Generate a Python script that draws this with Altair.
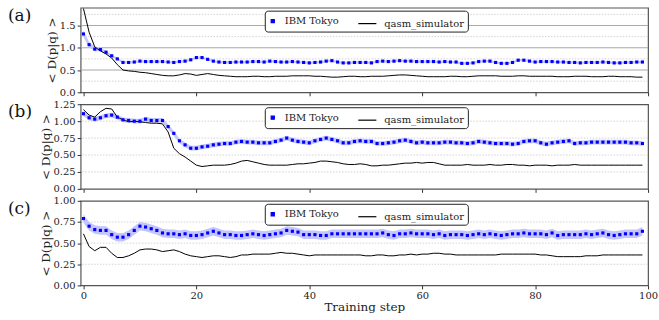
import altair as alt
import pandas as pd

steps = list(range(100))

ibm_a = [1.31, 1.07, 0.97, 0.96, 0.90, 0.82, 0.75, 0.67, 0.67, 0.68,
         0.70, 0.69, 0.69, 0.69, 0.69, 0.68, 0.67, 0.69, 0.70, 0.73,
         0.78, 0.78, 0.74, 0.70, 0.68, 0.67, 0.67, 0.68, 0.68, 0.68,
         0.69, 0.69, 0.68, 0.70, 0.69, 0.68, 0.68, 0.69, 0.68, 0.67,
         0.66, 0.67, 0.68, 0.70, 0.71, 0.68, 0.66, 0.66, 0.67, 0.67,
         0.67, 0.66, 0.69, 0.70, 0.69, 0.70, 0.71, 0.70, 0.70, 0.69,
         0.69, 0.69, 0.69, 0.68, 0.69, 0.68, 0.68, 0.65, 0.65, 0.66,
         0.69, 0.70, 0.70, 0.67, 0.65, 0.65, 0.67, 0.72, 0.72, 0.70,
         0.68, 0.69, 0.69, 0.69, 0.68, 0.68, 0.67, 0.67, 0.66, 0.67,
         0.67, 0.67, 0.68, 0.67, 0.66, 0.66, 0.67, 0.67, 0.68, 0.68]
sim_a = [1.88, 1.35, 1.02, 0.93, 0.86, 0.77, 0.62, 0.50, 0.48, 0.47,
         0.45, 0.44, 0.42, 0.40, 0.38, 0.37, 0.37, 0.39, 0.42, 0.41,
         0.38, 0.40, 0.42, 0.40, 0.38, 0.37, 0.36, 0.35, 0.35, 0.35,
         0.36, 0.36, 0.35, 0.35, 0.36, 0.36, 0.36, 0.37, 0.37, 0.37,
         0.37, 0.36, 0.36, 0.35, 0.34, 0.34, 0.35, 0.36, 0.36, 0.35,
         0.35, 0.36, 0.36, 0.36, 0.37, 0.38, 0.39, 0.39, 0.38, 0.37,
         0.36, 0.35, 0.35, 0.35, 0.35, 0.36, 0.36, 0.35, 0.35, 0.36,
         0.37, 0.37, 0.37, 0.37, 0.36, 0.36, 0.36, 0.37, 0.37, 0.36,
         0.36, 0.36, 0.36, 0.36, 0.35, 0.35, 0.35, 0.36, 0.36, 0.36,
         0.35, 0.35, 0.35, 0.36, 0.36, 0.35, 0.35, 0.35, 0.34, 0.34]
err_a = [0.07, 0.06, 0.05, 0.04, 0.035] + [0.025] * 95

ibm_b = [1.11, 1.05, 1.03, 1.05, 1.08, 1.09, 1.06, 1.02, 1.01, 1.00,
         1.00, 1.03, 1.01, 1.01, 1.01, 0.92, 0.82, 0.71, 0.65, 0.60,
         0.60, 0.62, 0.63, 0.65, 0.66, 0.67, 0.67, 0.69, 0.70, 0.69,
         0.69, 0.68, 0.68, 0.68, 0.70, 0.72, 0.75, 0.72, 0.70, 0.69,
         0.68, 0.71, 0.73, 0.75, 0.73, 0.71, 0.68, 0.68, 0.70, 0.71,
         0.70, 0.70, 0.67, 0.67, 0.68, 0.69, 0.71, 0.72, 0.70, 0.68,
         0.69, 0.68, 0.68, 0.68, 0.69, 0.69, 0.68, 0.68, 0.67, 0.68,
         0.70, 0.69, 0.68, 0.67, 0.67, 0.67, 0.66, 0.67, 0.70, 0.71,
         0.71, 0.68, 0.66, 0.68, 0.69, 0.70, 0.71, 0.67, 0.68, 0.68,
         0.69, 0.69, 0.69, 0.69, 0.69, 0.69, 0.69, 0.68, 0.68, 0.67]
sim_b = [1.17, 1.09, 1.06, 1.14, 1.19, 1.18, 1.06, 1.02, 0.99, 1.00,
         0.99, 0.98, 0.97, 0.97, 0.96, 0.84, 0.60, 0.52, 0.47, 0.41,
         0.35, 0.33, 0.34, 0.35, 0.35, 0.35, 0.36, 0.38, 0.41, 0.42,
         0.40, 0.38, 0.36, 0.35, 0.35, 0.35, 0.35, 0.36, 0.37, 0.37,
         0.38, 0.39, 0.41, 0.41, 0.40, 0.39, 0.37, 0.36, 0.36, 0.37,
         0.36, 0.34, 0.34, 0.35, 0.35, 0.36, 0.37, 0.38, 0.38, 0.39,
         0.38, 0.39, 0.39, 0.37, 0.35, 0.35, 0.35, 0.35, 0.36, 0.35,
         0.35, 0.35, 0.36, 0.35, 0.35, 0.36, 0.36, 0.35, 0.35, 0.34,
         0.35, 0.35, 0.35, 0.34, 0.35, 0.35, 0.35, 0.36, 0.35, 0.35,
         0.35, 0.35, 0.35, 0.35, 0.35, 0.35, 0.35, 0.35, 0.35, 0.35]
err_b = [0.035] * 100

ibm_c = [0.79, 0.70, 0.66, 0.65, 0.65, 0.60, 0.57, 0.57, 0.60, 0.65,
         0.70, 0.69, 0.67, 0.65, 0.62, 0.61, 0.61, 0.60, 0.61, 0.59,
         0.59, 0.60, 0.62, 0.64, 0.62, 0.60, 0.60, 0.59, 0.59, 0.60,
         0.61, 0.60, 0.59, 0.60, 0.61, 0.62, 0.65, 0.64, 0.63, 0.60,
         0.60, 0.60, 0.59, 0.59, 0.61, 0.61, 0.61, 0.61, 0.61, 0.61,
         0.61, 0.61, 0.61, 0.62, 0.60, 0.59, 0.61, 0.61, 0.62, 0.61,
         0.61, 0.61, 0.60, 0.61, 0.59, 0.60, 0.60, 0.60, 0.59, 0.60,
         0.61, 0.60, 0.61, 0.60, 0.59, 0.60, 0.61, 0.61, 0.62, 0.61,
         0.61, 0.61, 0.60, 0.62, 0.59, 0.60, 0.60, 0.60, 0.60, 0.61,
         0.60, 0.61, 0.62, 0.60, 0.59, 0.60, 0.61, 0.61, 0.61, 0.64]
sim_c = [0.61, 0.46, 0.41, 0.45, 0.45, 0.38, 0.33, 0.33, 0.35, 0.38,
         0.42, 0.43, 0.43, 0.42, 0.40, 0.41, 0.42, 0.40, 0.37, 0.35,
         0.34, 0.33, 0.34, 0.35, 0.35, 0.34, 0.33, 0.34, 0.36, 0.36,
         0.37, 0.37, 0.37, 0.37, 0.38, 0.39, 0.38, 0.38, 0.37, 0.36,
         0.35, 0.36, 0.36, 0.36, 0.36, 0.36, 0.36, 0.36, 0.36, 0.36,
         0.35, 0.35, 0.36, 0.36, 0.35, 0.35, 0.36, 0.36, 0.37, 0.36,
         0.37, 0.37, 0.38, 0.38, 0.37, 0.37, 0.36, 0.36, 0.36, 0.36,
         0.36, 0.36, 0.36, 0.36, 0.37, 0.37, 0.37, 0.37, 0.37, 0.37,
         0.37, 0.36, 0.36, 0.35, 0.34, 0.34, 0.34, 0.34, 0.34, 0.35,
         0.35, 0.35, 0.36, 0.36, 0.36, 0.36, 0.36, 0.36, 0.36, 0.36]
err_c = [0.05] * 100

series_names = ["IBM Tokyo", "qasm_simulator"]
x_ticks = [0, 20, 40, 60, 80, 100]

FONT = "DejaVu Serif"
PW, PH = 570, 85


def panel(label, ibm, sim, err, ydomain, yticks, yfmt, grid_major, grid_minor, bottom):
    df = pd.DataFrame({
        "step": steps,
        "IBM Tokyo": ibm,
        "qasm_simulator": sim,
        "lo": [v - e for v, e in zip(ibm, err)],
        "hi": [v + e for v, e in zip(ibm, err)],
    })
    xscale = alt.Scale(domain=[-0.5, 100], nice=False, zero=False)
    yscale = alt.Scale(domain=ydomain, nice=False, zero=False)
    xaxis = alt.Axis(values=x_ticks, labels=bottom, title="Training step" if bottom else None,
                     grid=False, tickSize=3.5, labelPadding=2, titlePadding=1, format="d",
                     labelFlush=False)
    yaxis = alt.Axis(values=yticks, format=yfmt, grid=False, title="< D(p|q) >",
                     tickSize=3.5, labelPadding=2, titlePadding=1, labelFlush=False)

    X = alt.X("step:Q", scale=xscale, axis=xaxis)

    layers = []
    if grid_minor:
        layers.append(alt.Chart(pd.DataFrame({"g": grid_minor})).mark_rule(
            color="#c8c8c8", strokeWidth=0.8, strokeDash=[1.5, 1.5]).encode(
            y=alt.Y("g:Q", scale=yscale, axis=yaxis)))
    if grid_major:
        layers.append(alt.Chart(pd.DataFrame({"g": grid_major})).mark_rule(
            color="#a8a8a8", strokeWidth=1).encode(
            y=alt.Y("g:Q", scale=yscale, axis=yaxis)))

    leg = alt.Legend(title=None, orient="none", legendX=185, legendY=3,
                     direction="horizontal", labelFont=FONT, labelFontSize=10,
                     labelColor="#222", labelOffset=7, columnPadding=16,
                     padding=3, strokeColor="#222", fillColor="white", cornerRadius=3,
                     symbolStrokeWidth=1.2, symbolOpacity=1)
    pal = alt.Scale(domain=series_names, range=["#0000ff", "#000000"])
    color = alt.Color("series:N", scale=pal, legend=leg)
    stroke = alt.Stroke("series:N", scale=pal, legend=leg)
    shape = alt.Shape("series:N", scale=alt.Scale(domain=series_names, range=["square", "stroke"]),
                      legend=leg)
    size = alt.Size("series:N", scale=alt.Scale(domain=series_names, range=[10, 330]),
                    legend=leg)

    band = alt.Chart(df).mark_area(color="#c4c4ff", opacity=1).encode(
        x=X, y=alt.Y("lo:Q", scale=yscale, axis=yaxis), y2="hi:Q")
    line = alt.Chart(df).mark_line(color="#000000", strokeWidth=1, clip=True).encode(
        x=X, y=alt.Y("qasm_simulator:Q", scale=yscale, axis=yaxis))
    pts = alt.Chart(df).transform_fold(["IBM Tokyo"], as_=["series", "val"]).mark_point(
        filled=True, strokeWidth=0, opacity=1).encode(
        x=X, y=alt.Y("val:Q", scale=yscale, axis=yaxis),
        color=color, stroke=stroke, shape=shape, size=size)
    lab = alt.Chart(pd.DataFrame({"t": [label]})).mark_text(
        font=FONT, fontSize=17, align="left", baseline="middle", color="#111").encode(
        text="t:N", x=alt.value(-73), y=alt.value(8))
    layers += [band, line, pts, lab]
    return alt.layer(*layers).properties(width=PW, height=PH)


pa = panel("(a)", ibm_a, sim_a, err_a, [0, 1.9], [0, 0.5, 1.0, 1.5], ".1f",
           [0.5, 1.0, 1.5], [0.25, 0.75, 1.25, 1.75], False)
pb = panel("(b)", ibm_b, sim_b, err_b, [0, 1.25], [0, 0.25, 0.5, 0.75, 1.0, 1.25], ".2f",
           [], [0.25, 0.5, 0.75, 1.0], False)
pc = panel("(c)", ibm_c, sim_c, err_c, [0, 1.0], [0, 0.25, 0.5, 0.75, 1.0], ".2f",
           [], [0.25, 0.5, 0.75], True)

chart = alt.vconcat(pa, pb, pc, spacing=12, bounds="flush").resolve_scale(
    color="independent", stroke="independent", shape="independent", size="independent"
).resolve_legend(
    color="independent", stroke="independent", shape="independent", size="independent"
).properties(
    padding={"left": 7, "top": 5, "right": 0, "bottom": 0}
).configure_view(stroke="#555", strokeWidth=1.2).configure_axis(
    labelFont=FONT, labelFontSize=10, labelColor="#222", titleFont=FONT, titleFontSize=12,
    titleColor="#222", titleFontWeight="normal", tickColor="#333", domain=False
)

chart.save("out.html", embed_options={"renderer": "svg", "actions": False})
